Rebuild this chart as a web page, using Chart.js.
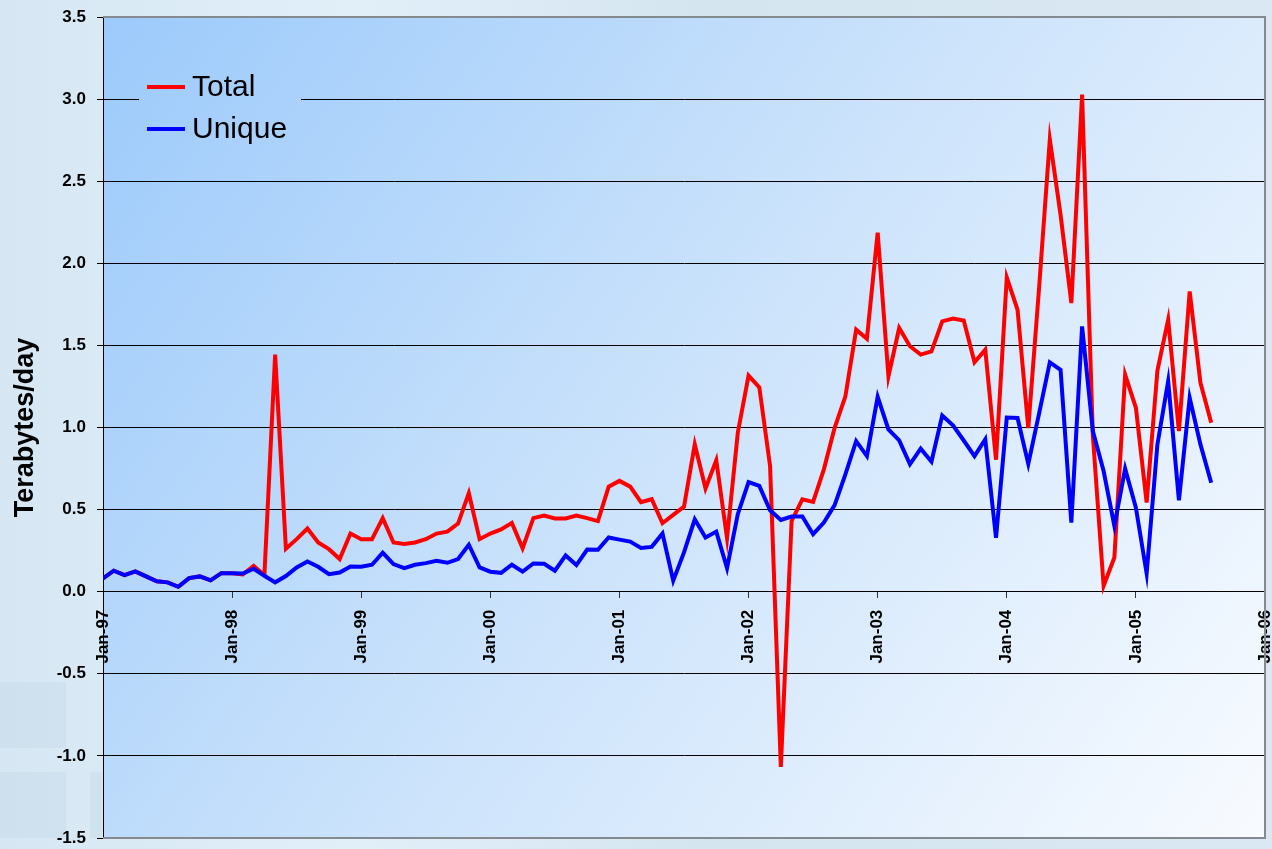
<!DOCTYPE html>
<html>
<head>
<meta charset="utf-8">
<title>Terabytes/day</title>
<script src="https://cdn.jsdelivr.net/npm/chart.js@4.4.1/dist/chart.umd.min.js"></script>
<style>
  html, body {
    margin: 0;
    padding: 0;
    width: 1272px;
    height: 849px;
    overflow: hidden;
  }
  body {
    position: relative;
    background: linear-gradient(90deg, #d6e7f3 0%, #e1eff9 28%, #d5e5f0 55%, #d9e8f2 100%);
  }
  .tile {
    position: absolute;
    background: rgba(170, 195, 215, 0.18);
  }
  #trafficChart {
    position: absolute;
    left: 0;
    top: 0;
  }
</style>
</head>
<body>
<div class="tile" style="left:0;top:682px;width:66px;height:66px"></div>
<div class="tile" style="left:0;top:772px;width:66px;height:66px"></div>
<div class="tile" style="left:90px;top:772px;width:12px;height:66px"></div>
<canvas id="trafficChart" width="1272" height="849"></canvas>
<script>
// monthly values, Jan-97 .. Aug-05 (index 0 = Jan-97)
const totalTB = [
  0.081, 0.128, 0.101, 0.124, 0.093, 0.063, 0.057, 0.030, 0.083, 0.093, 0.069, 0.113,
  0.113, 0.105, 0.158, 0.100, 1.444, 0.262, 0.320, 0.385, 0.300, 0.259, 0.199, 0.354,
  0.320, 0.320, 0.448, 0.300, 0.290, 0.300, 0.320, 0.354, 0.366, 0.415, 0.600, 0.320,
  0.354, 0.379, 0.419, 0.265, 0.448, 0.464, 0.446, 0.446, 0.464, 0.448, 0.430, 0.640,
  0.675, 0.640, 0.545, 0.563, 0.417, 0.468, 0.518, 0.897, 0.628, 0.800, 0.326, 0.968,
  1.316, 1.245, 0.765, -1.067, 0.431, 0.563, 0.547, 0.745, 0.998, 1.190, 1.596, 1.541,
  2.187, 1.312, 1.606, 1.495, 1.444, 1.464, 1.646, 1.663, 1.651, 1.397, 1.474, 0.804,
  1.914, 1.717, 0.996, 1.849, 2.754, 2.295, 1.758, 3.027, 0.950, 0.036, 0.208, 1.322,
  1.120, 0.543, 1.347, 1.657, 0.978, 1.829, 1.272, 1.029
];
const uniqueTB = [
  0.081, 0.128, 0.101, 0.124, 0.093, 0.063, 0.057, 0.030, 0.083, 0.093, 0.069, 0.113,
  0.113, 0.111, 0.140, 0.097, 0.057, 0.095, 0.148, 0.184, 0.152, 0.107, 0.117, 0.154,
  0.152, 0.164, 0.237, 0.168, 0.144, 0.164, 0.174, 0.188, 0.176, 0.199, 0.286, 0.148,
  0.122, 0.115, 0.164, 0.122, 0.172, 0.170, 0.128, 0.221, 0.162, 0.257, 0.255, 0.330,
  0.317, 0.305, 0.266, 0.273, 0.354, 0.067, 0.239, 0.441, 0.330, 0.366, 0.144, 0.472,
  0.668, 0.644, 0.496, 0.437, 0.458, 0.458, 0.350, 0.421, 0.527, 0.715, 0.917, 0.826,
  1.187, 0.988, 0.921, 0.776, 0.871, 0.792, 1.073, 1.013, 0.921, 0.826, 0.928, 0.328,
  1.061, 1.058, 0.778, 1.085, 1.397, 1.351, 0.421, 1.616, 0.978, 0.735, 0.401, 0.749,
  0.512, 0.111, 0.897, 1.282, 0.557, 1.180, 0.897, 0.664
];
const yearTicks = ["Jan-97", "Jan-98", "Jan-99", "Jan-00", "Jan-01", "Jan-02", "Jan-03", "Jan-04", "Jan-05", "Jan-06"];
const seriesNames = ["Total", "Unique"];
const seriesColors = ["#ff0000", "#0000ff"];

const FONT = "'Liberation Sans', Arial, sans-serif";

function plotGradient(ctx, area) {
  const g = ctx.createLinearGradient(area.left, area.top, area.right, area.bottom);
  g.addColorStop(0, "#9ccafb");
  g.addColorStop(0.45, "#c8e1fb");
  g.addColorStop(1, "#f8fbff");
  return g;
}

// fill the plot area before anything else is drawn
const plotBackground = {
  id: "plotBackground",
  beforeDraw(chart) {
    const { ctx, chartArea } = chart;
    ctx.save();
    ctx.fillStyle = plotGradient(ctx, chartArea);
    ctx.fillRect(chartArea.left, chartArea.top, chartArea.right - chartArea.left, chartArea.bottom - chartArea.top);
    ctx.restore();
  },
  beforeDatasetsDraw(chart) {
    // grey frame on top, right and bottom
    const { ctx, chartArea } = chart;
    ctx.save();
    ctx.strokeStyle = "#858a8f";
    ctx.lineWidth = 2;
    ctx.beginPath();
    ctx.moveTo(chartArea.left, chartArea.top);
    ctx.lineTo(chartArea.right, chartArea.top);
    ctx.lineTo(chartArea.right, chartArea.bottom);
    ctx.lineTo(chartArea.left, chartArea.bottom);
    ctx.stroke();
    ctx.restore();
  },
};

// legend box sitting inside the plot, top left
const insideLegend = {
  id: "insideLegend",
  afterDraw(chart) {
    const { ctx, chartArea } = chart;
    const x = chartArea.left + 36;
    const y = chartArea.top + 51;
    ctx.save();
    ctx.fillStyle = plotGradient(ctx, chartArea);
    ctx.fillRect(x, y, 162, 86);
    seriesNames.forEach((name, i) => {
      const ly = y + 19 + i * 42;
      ctx.strokeStyle = seriesColors[i];
      ctx.lineWidth = 4;
      ctx.beginPath();
      ctx.moveTo(x + 8, ly);
      ctx.lineTo(x + 46, ly);
      ctx.stroke();
      ctx.fillStyle = "#000";
      ctx.font = "30px " + FONT;
      ctx.textBaseline = "middle";
      ctx.fillText(name, x + 53, ly + 1);
    });
    ctx.restore();
  },
};

document.addEventListener("DOMContentLoaded", () => {
  const ctx = document.getElementById("trafficChart").getContext("2d");

  const trafficChart = new Chart(ctx, {
    type: "line",
    data: {
      datasets: [
        {
          label: seriesNames[0],
          data: totalTB.map((v, i) => ({ x: i, y: v })),
          borderColor: seriesColors[0],
          borderWidth: 4,
          pointRadius: 0,
          tension: 0,
          order: 1,
        },
        {
          label: seriesNames[1],
          data: uniqueTB.map((v, i) => ({ x: i, y: v })),
          borderColor: seriesColors[1],
          borderWidth: 4,
          pointRadius: 0,
          tension: 0,
          order: 0,
        },
      ],
    },
    options: {
      responsive: false,
      maintainAspectRatio: false,
      animation: false,
      layout: {
        padding: { left: 0, right: 7, top: 17, bottom: 11 },
      },
      plugins: {
        legend: { display: false },
        tooltip: { enabled: false },
      },
      scales: {
        x: {
          type: "linear",
          position: { y: 0 },
          min: 0,
          max: 108,
          grid: {
            drawOnChartArea: false,
            drawTicks: true,
            tickLength: 6,
            tickColor: "#333",
          },
          border: { display: true, color: "#000", width: 1 },
          ticks: {
            stepSize: 12,
            autoSkip: false,
            minRotation: 90,
            maxRotation: 90,
            padding: 12,
            color: "#000",
            font: { family: FONT, size: 17, weight: "bold" },
            callback: (value) => yearTicks[value / 12],
          },
          afterFit: (scale) => {
            scale.height = 0;
            scale.paddingLeft = 0;
            scale.paddingRight = 0;
            scale.paddingTop = 0;
            scale.paddingBottom = 0;
          },
        },
        y: {
          min: -1.5,
          max: 3.5,
          grid: {
            color: (c) => (c.tick && (c.tick.value === 3.5 || c.tick.value === -1.5) ? "rgba(0,0,0,0)" : "#000"),
            lineWidth: 1,
            tickLength: 6,
            tickColor: "#000",
          },
          border: { display: true, color: "#000", width: 1 },
          ticks: {
            stepSize: 0.5,
            padding: 11,
            color: "#000",
            font: { family: FONT, size: 17, weight: "bold" },
            callback: (value) => value.toFixed(1),
          },
          title: {
            display: true,
            text: "Terabytes/day",
            color: "#000",
            font: { family: FONT, size: 27, weight: "bold" },
            padding: { top: 9, bottom: 0 },
          },
          afterFit: (scale) => {
            scale.width = 103;
            scale.paddingTop = 0;
            scale.paddingBottom = 0;
          },
        },
      },
    },
    plugins: [plotBackground, insideLegend],
  });
});
</script>
</body>
</html>
